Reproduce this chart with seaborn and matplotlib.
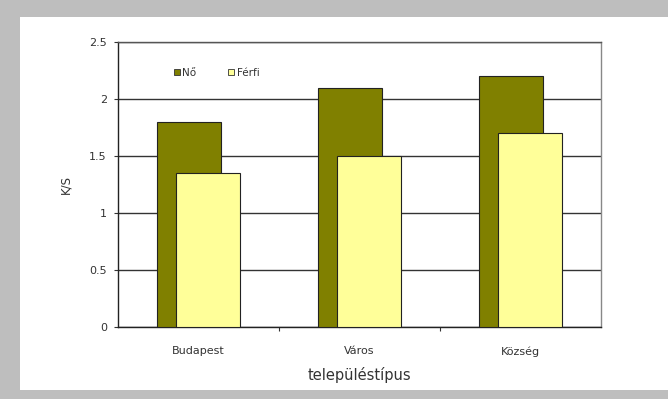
import matplotlib
matplotlib.use("Agg")
import matplotlib.pyplot as plt
import seaborn as sns
import pandas as pd
from matplotlib.patches import Rectangle
from matplotlib.lines import Line2D

categories = ["Budapest", "Város", "Község"]
series_names = ["Nő", "Férfi"]
no_values = [1.8, 2.1, 2.2]
ferfi_values = [1.35, 1.5, 1.7]
y_ticks = [0, 0.5, 1, 1.5, 2, 2.5]
y_tick_labels = ["0", "0.5", "1", "1.5", "2", "2.5"]

sns.set_theme(style="white")
plt.rcParams["font.family"] = ["DejaVu Sans"]

df = pd.DataFrame({
    "településtípus": categories * 2,
    "K/S": no_values + ferfi_values,
    "nem": [series_names[0]] * 3 + [series_names[1]] * 3,
})

fig = plt.figure(figsize=(6.68, 3.99), dpi=100)
fig.patch.set_facecolor("white")
ax = fig.add_axes([118 / 668, 72 / 399, 483 / 668, 285 / 399])

colors = {"Nő": "#808000", "Férfi": "#FFFF99"}
sns.barplot(data=df, x="településtípus", y="K/S", hue="nem", hue_order=series_names,
            order=categories, palette=colors, ax=ax, edgecolor="#222222",
            linewidth=0.8, saturation=1, legend=False)

# Excel-style overlapping bars
width = 0.40
offsets = {"Nő": -0.258, "Férfi": -0.140}
for container, name in zip(ax.containers, series_names):
    for i, patch in enumerate(container.patches):
        patch.set_width(width)
        patch.set_x(i + offsets[name])
        patch.set_zorder(3 if name == "Nő" else 4)

ax.set_xlim(-0.5, 2.5)
ax.set_ylim(0, 2.5)
ax.set_yticks(y_ticks)
ax.set_yticklabels(y_tick_labels)
ax.yaxis.grid(True, color="#333333", linewidth=1.0)
ax.set_axisbelow(True)

for s in ["left", "bottom"]:
    ax.spines[s].set_color("#222222")
    ax.spines[s].set_linewidth(1.0)
ax.spines["right"].set_color("#888888")
ax.spines["right"].set_linewidth(1.0)
ax.spines["top"].set_color("#555555")
ax.spines["top"].set_linewidth(1.0)

ax.tick_params(axis="y", which="both", left=True, length=3, width=0.8,
               color="#333333", labelsize=8, pad=5, labelcolor="#333333")
ax.set_xticks(range(len(categories)))
ax.set_xticklabels(categories)
ax.tick_params(axis="x", which="major", bottom=False, labelsize=8, pad=8,
               labelcolor="#333333")
ax.set_xticks([0.5, 1.5], minor=True)
ax.tick_params(axis="x", which="minor", bottom=True, length=3, width=0.8,
               color="#333333")

ax.set_xlabel("településtípus", fontsize=10.5, color="#333333", labelpad=7)
ax.set_ylabel("K/S", fontsize=8.5, color="#333333", labelpad=12)

handles = [Line2D([], [], marker="s", linestyle="none", markersize=5,
                  markerfacecolor=colors[n], markeredgecolor="#333333",
                  markeredgewidth=0.6) for n in series_names]
ax.legend(handles, series_names, loc="upper left", bbox_to_anchor=(0.104, 0.925),
          ncol=2, frameon=False, fontsize=7.5, handlelength=0.8,
          handletextpad=0.15, columnspacing=2.9, borderaxespad=0,
          labelcolor="#333333")

# gray picture frame
fig.patches.append(Rectangle((0, 1 - 17 / 399), 1, 17 / 399, transform=fig.transFigure,
                             facecolor="#BEBEBE", edgecolor="none", zorder=-1))
fig.patches.append(Rectangle((0, 0), 20 / 668, 1, transform=fig.transFigure,
                             facecolor="#BEBEBE", edgecolor="none", zorder=-1))
fig.patches.append(Rectangle((0, 0), 1, 9 / 399, transform=fig.transFigure,
                             facecolor="#BEBEBE", edgecolor="none", zorder=-1))

fig.savefig("out.png", dpi=100)
